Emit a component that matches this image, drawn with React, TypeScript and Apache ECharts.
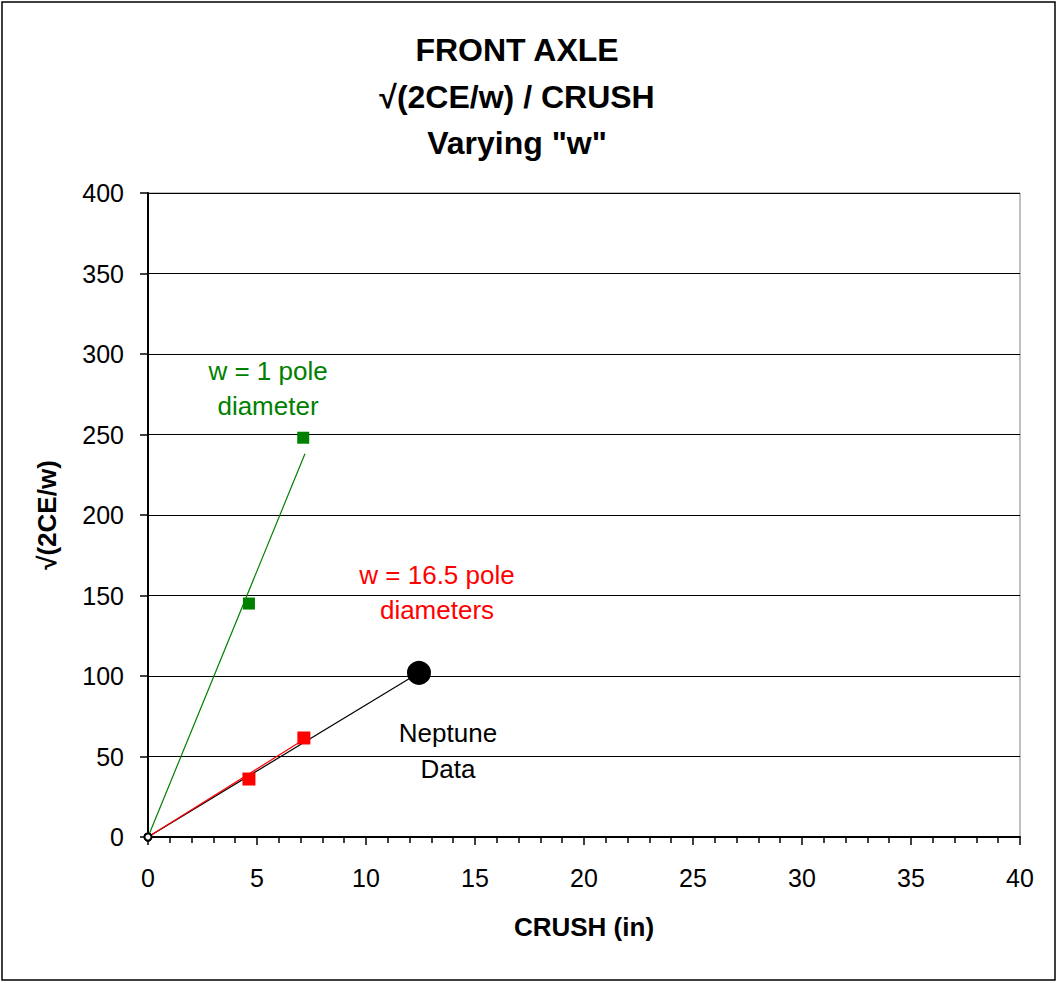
import React, { useEffect, useRef } from "react";
import * as echarts from "echarts";

const xTicks = [0, 5, 10, 15, 20, 25, 30, 35, 40];
const yTicks = [0, 50, 100, 150, 200, 250, 300, 350, 400];

// w = 1 pole diameter (green)
const greenPoints: [number, number][] = [
  [4.63, 145],
  [7.12, 248],
];
const greenTrend: [number, number][] = [
  [0, 0],
  [7.2, 238],
];

// w = 16.5 pole diameters (red)
const redPoints: [number, number][] = [
  [4.63, 36],
  [7.15, 61.5],
];
const redTrend: [number, number][] = [
  [0, 0],
  [7.15, 60.5],
];

// Neptune data (black)
const neptune: [number, number][] = [
  [0, 0],
  [12.43, 102],
];

const titleLines = ["FRONT AXLE", "\u221A(2CE/w) / CRUSH", 'Varying "w"'];

export default function App() {
  const ref = useRef<HTMLDivElement>(null);
  useEffect(() => {
    if (!ref.current) return;
    const chart = echarts.init(ref.current, null, { renderer: "svg" });
    const font = "'Liberation Sans', Arial, sans-serif";
    chart.setOption({
      animation: false,
      backgroundColor: "#ffffff",
      textStyle: { fontFamily: font },
      title: {
        text: titleLines.join("\n"),
        left: 512,
        textAlign: "center",
        top: 22,
        textStyle: {
          fontFamily: font,
          fontSize: 32,
          fontWeight: "bold",
          lineHeight: 46.5,
          color: "#000",
        },
      },
      grid: {
        left: 148,
        top: 193,
        right: 38,
        bottom: 146,
        show: true,
        borderColor: "#808080",
        borderWidth: 1,
        backgroundColor: "transparent",
      },
      xAxis: {
        type: "value",
        min: xTicks[0],
        max: xTicks[xTicks.length - 1],
        interval: 5,
        name: "CRUSH (in)",
        nameLocation: "middle",
        nameGap: 77,
        nameTextStyle: { fontFamily: font, fontSize: 26, fontWeight: "bold", color: "#000" },
        axisLine: { show: true, onZero: false, lineStyle: { color: "#000", width: 2 } },
        axisTick: { show: true, inside: false, length: 8, lineStyle: { color: "#000", width: 1.5 } },
        minorTick: { show: true, splitNumber: 5, length: 6, lineStyle: { color: "#000", width: 1.5 } },
        axisLabel: { fontFamily: font, fontSize: 25, color: "#000", margin: 28 },
        splitLine: { show: false },
      },
      yAxis: {
        type: "value",
        min: yTicks[0],
        max: yTicks[yTicks.length - 1],
        interval: 50,
        name: "\u221A(2CE/w)",
        nameLocation: "middle",
        nameGap: 88,
        nameRotate: 90,
        nameTextStyle: { fontFamily: font, fontSize: 26, fontWeight: "bold", color: "#000" },
        axisLine: { show: true, onZero: false, lineStyle: { color: "#000", width: 2 } },
        axisTick: { show: true, inside: false, length: 8, lineStyle: { color: "#000", width: 1.5 } },
        axisLabel: { fontFamily: font, fontSize: 25, color: "#000", margin: 24 },
        splitLine: { show: true, lineStyle: { color: "#000", width: 1 } },
      },
      series: [
        {
          name: "Neptune",
          type: "line",
          data: neptune.map((p, i) =>
            i === 0
              ? { value: p, symbol: "emptyCircle", symbolSize: 7 }
              : { value: p, symbol: "circle", symbolSize: 22 }
          ),
          lineStyle: { color: "#000", width: 1.2 },
          itemStyle: { color: "#000", borderColor: "#000", borderWidth: 2 },
          z: 3,
        },
        {
          name: "Green trend",
          type: "line",
          data: greenTrend.map((p, i) =>
            i === 0 ? { value: p, symbol: "emptyCircle", symbolSize: 7 } : { value: p, symbol: "none" }
          ),
          lineStyle: { color: "#008000", width: 1.2 },
          itemStyle: { color: "#000", borderColor: "#000", borderWidth: 2 },
          z: 4,
        },
        {
          name: "Red trend",
          type: "line",
          showSymbol: false,
          symbol: "none",
          data: redTrend,
          lineStyle: { color: "#ff0000", width: 1.2 },
          z: 4,
        },
        {
          name: "w = 1 pole diameter",
          type: "scatter",
          symbol: "rect",
          symbolSize: 12,
          data: greenPoints,
          itemStyle: { color: "#008000", opacity: 1 },
          z: 5,
        },
        {
          name: "w = 16.5 pole diameters",
          type: "scatter",
          symbol: "rect",
          symbolSize: 13,
          data: redPoints,
          itemStyle: { color: "#ff0000", opacity: 1 },
          z: 5,
        },
      ],
      graphic: [
        {
          type: "rect",
          shape: { x: 2, y: 2, width: 1053, height: 978 },
          style: { fill: "none", stroke: "#000", lineWidth: 1.5 },
          silent: true,
        },
        {
          type: "text",
          x: 268,
          y: 388,
          style: {
            text: "w = 1 pole\ndiameter",
            fill: "#008000",
            font: `26px ${font}`,
            align: "center",
            verticalAlign: "middle",
            lineHeight: 35,
          },
        },
        {
          type: "text",
          x: 437,
          y: 592,
          style: {
            text: "w = 16.5 pole\ndiameters",
            fill: "#ff0000",
            font: `26px ${font}`,
            align: "center",
            verticalAlign: "middle",
            lineHeight: 35,
          },
        },
        {
          type: "text",
          x: 448,
          y: 751,
          style: {
            text: "Neptune\nData",
            fill: "#000",
            font: `26px ${font}`,
            align: "center",
            verticalAlign: "middle",
            lineHeight: 36,
          },
        },
      ],
    });
    return () => chart.dispose();
  }, []);
  return (
    <div
      ref={ref}
      style={{ position: "absolute", left: 0, top: 0, width: 1058, height: 983 }}
    />
  );
}
